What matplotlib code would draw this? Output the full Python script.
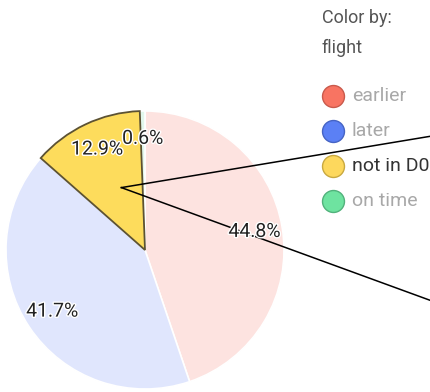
import numpy as np
import matplotlib.pyplot as plt
import matplotlib.patheffects as pe

plt.rcParams['font.family'] = ['Roboto', 'DejaVu Sans']

# data
labels = ['earlier', 'later', 'not in D0', 'on time']
shares = [44.8, 41.7, 12.9, 0.6]
full_colors = ['#f87462', '#5b80f5', '#fdd85d', '#6ee3a0']
edge_colors = ['#c95a4c', '#4664c4', '#c9a940', '#52b27c']
faded_colors = ['#fde3e0', '#e0e6fd', '#fddc5c', '#e2f7ec']
highlight = 'not in D0'

W, H = 431, 392
fig = plt.figure(figsize=(W / 100, H / 100), dpi=100)
ax = fig.add_axes([0, 0, 1, 1])

cx, cy, r = 145, H - 250, 139

wedges, texts, autotexts = ax.pie(
    shares, colors=faded_colors, startangle=90, counterclock=False,
    center=(cx, cy), radius=r, autopct='%1.1f%%', pctdistance=0.8,
    wedgeprops=dict(edgecolor='white', linewidth=1.2),
    textprops=dict(fontsize=14, color='#222222'), frame=True)
ax.set_xlim(0, W)
ax.set_ylim(0, H)
ax.set_aspect('equal')
ax.axis('off')

for w, lab in zip(wedges, labels):
    if lab == highlight:
        w.set_edgecolor('#5c5233')
        w.set_linewidth(1.3)
        w.set_zorder(3)
for t in autotexts:
    t.set_path_effects([pe.withStroke(linewidth=2, foreground='white')])
    t.set_zorder(6)

# connector lines toward the breakdown chart (off canvas)
hi = wedges[labels.index(highlight)]
ang = np.deg2rad(hi.theta1 + (hi.theta2 - hi.theta1) * 0.4)
sx, sy = cx + 0.48 * r * np.cos(ang), cy + 0.48 * r * np.sin(ang)
for ey in (H - 136, H - 301):
    ax.plot([sx, W + 1], [sy, ey], color='black', lw=1.1, zorder=5,
            clip_on=False)

# legend
ax.text(322, H - 18, 'Color by:', fontsize=13, color='#555555', va='center')
ax.text(322, H - 48, 'flight', fontsize=13, color='#555555', va='center')
for i, (lab, col, ec) in enumerate(zip(labels, full_colors, edge_colors)):
    y = H - 96 - 35 * i
    active = lab == highlight
    ax.scatter([333], [y], s=250, color=col, edgecolors=ec,
               linewidths=1, zorder=7, clip_on=False)
    ax.text(352, y, lab, fontsize=14, va='center',
            color='#333333' if active else '#a8a8a8', zorder=7)

fig.savefig('out.png', dpi=100)
